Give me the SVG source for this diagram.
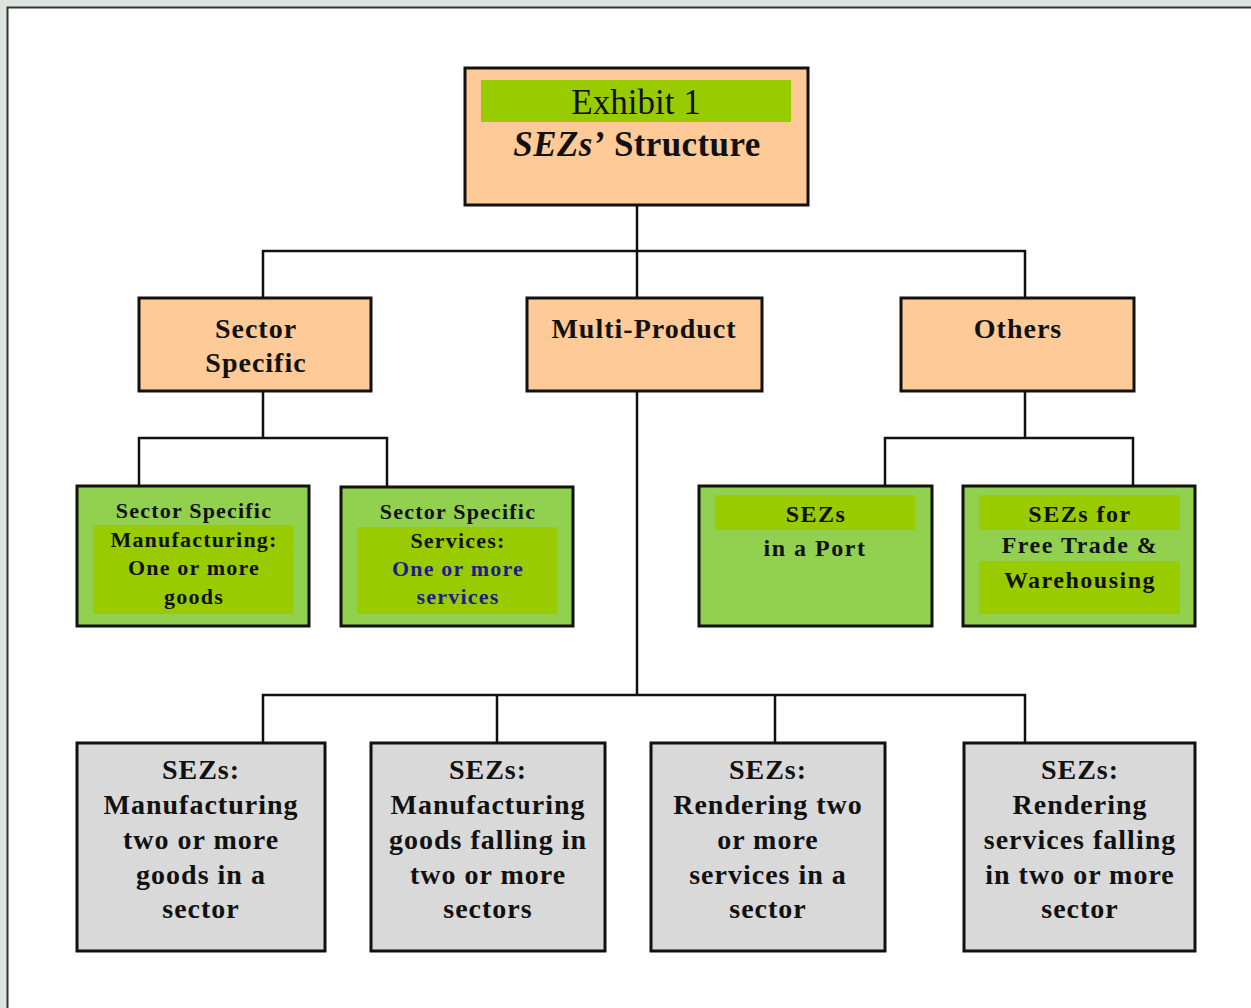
<svg xmlns="http://www.w3.org/2000/svg" width="1251" height="1008" viewBox="0 0 1251 1008">
<style>
.box{stroke:#111;stroke-width:3}
.peach{fill:#fdca98}
.lg{fill:#92d050}
.dg{fill:#99cc00}
.gray{fill:#d9d9d9}
.t{font-family:"Liberation Serif","Times New Roman",serif;font-weight:bold;text-anchor:middle;fill:#111}
.mid{font-size:28px;letter-spacing:1px}
.sm{font-size:22px;letter-spacing:1.2px}
.md{font-size:24px;letter-spacing:1.5px}
.gr{font-size:28px;letter-spacing:1px}
.conn{stroke:#111;stroke-width:2.5;fill:none}
</style>
<rect x="0" y="0" width="1251" height="1008" fill="#dde3df"/>
<rect x="8" y="8" width="1243" height="1000" fill="#ffffff"/>
<path d="M7.5 1008 V7.5 H1251" stroke="#333" stroke-width="2" fill="none"/>

<g id="connectors">
<path class="conn" d="M637 205 V298 M263 298 V251 H1025 V298"/>
<path class="conn" d="M263 391 V438 M139 486 V438 H387 V486"/>
<path class="conn" d="M1025 391 V438 M885 486 V438 H1133 V486"/>
<path class="conn" d="M637 391 V695 M263 743 V695 H1025 V743 M497 695 V743 M775 695 V743"/>
</g>

<g id="title">
<rect class="box peach" x="465" y="68" width="343" height="137"/>
<rect class="dg" x="481" y="80" width="310" height="42"/>
<text x="636" y="114" font-family="Liberation Serif,serif" font-size="35" text-anchor="middle" fill="#111">Exhibit 1</text>
<text x="637" y="156" class="t" font-size="35" letter-spacing="0.4"><tspan font-style="italic">SEZs’</tspan> Structure</text>
</g>

<g id="sector-specific">
<rect class="box peach" x="139" y="298" width="232" height="93"/>
<text class="t mid" x="256" y="338">Sector</text>
<text class="t mid" x="256" y="372">Specific</text>
</g>

<g id="multi-product">
<rect class="box peach" x="527" y="298" width="235" height="93"/>
<text class="t mid" x="644" y="338">Multi-Product</text>
</g>

<g id="others">
<rect class="box peach" x="901" y="298" width="233" height="93"/>
<text class="t mid" x="1018" y="338">Others</text>
</g>

<g id="ss-manufacturing">
<rect class="box lg" x="77" y="486" width="232" height="140"/>
<rect class="dg" x="93" y="525" width="200" height="89"/>
<text class="t sm" x="194" y="518">Sector Specific</text>
<text class="t sm" x="194" y="547">Manufacturing:</text>
<text class="t sm" x="194" y="575">One or more</text>
<text class="t sm" x="194" y="604">goods</text>
</g>

<g id="ss-services">
<rect class="box lg" x="341" y="487" width="232" height="139"/>
<rect class="dg" x="357" y="527" width="200" height="87"/>
<text class="t sm" x="458" y="519">Sector Specific</text>
<text class="t sm" x="458" y="548">Services:</text>
<text class="t sm" x="458" y="576" style="fill:#1c1c8a">One or more</text>
<text class="t sm" x="458" y="604" style="fill:#1c1c8a">services</text>
</g>

<g id="sezs-port">
<rect class="box lg" x="699" y="486" width="233" height="140"/>
<rect class="dg" x="715" y="495" width="200" height="35"/>
<text class="t md" x="816" y="522">SEZs</text>
<text class="t md" x="815" y="556">in a Port</text>
</g>

<g id="sezs-free-trade">
<rect class="box lg" x="963" y="486" width="232" height="140"/>
<rect class="dg" x="979" y="495" width="201" height="35"/>
<rect class="dg" x="979" y="561" width="201" height="53"/>
<text class="t md" x="1080" y="522">SEZs for</text>
<text class="t md" x="1080" y="553">Free Trade &amp;</text>
<text class="t md" x="1080" y="588">Warehousing</text>
</g>

<g id="mp-goods-sector">
<rect class="box gray" x="77" y="743" width="248" height="208"/>
<text class="t gr" x="201" y="779">SEZs:</text>
<text class="t gr" x="201" y="814">Manufacturing</text>
<text class="t gr" x="201" y="849">two or more</text>
<text class="t gr" x="201" y="884">goods in a</text>
<text class="t gr" x="201" y="918">sector</text>
</g>

<g id="mp-goods-sectors">
<rect class="box gray" x="371" y="743" width="234" height="208"/>
<text class="t gr" x="488" y="779">SEZs:</text>
<text class="t gr" x="488" y="814">Manufacturing</text>
<text class="t gr" x="488" y="849">goods falling in</text>
<text class="t gr" x="488" y="884">two or more</text>
<text class="t gr" x="488" y="918">sectors</text>
</g>

<g id="mp-services-sector">
<rect class="box gray" x="651" y="743" width="234" height="208"/>
<text class="t gr" x="768" y="779">SEZs:</text>
<text class="t gr" x="768" y="814">Rendering two</text>
<text class="t gr" x="768" y="849">or more</text>
<text class="t gr" x="768" y="884">services in a</text>
<text class="t gr" x="768" y="918">sector</text>
</g>

<g id="mp-services-sectors">
<rect class="box gray" x="964" y="743" width="231" height="208"/>
<text class="t gr" x="1080" y="779">SEZs:</text>
<text class="t gr" x="1080" y="814">Rendering</text>
<text class="t gr" x="1080" y="849">services falling</text>
<text class="t gr" x="1080" y="884">in two or more</text>
<text class="t gr" x="1080" y="918">sector</text>
</g>
</svg>
